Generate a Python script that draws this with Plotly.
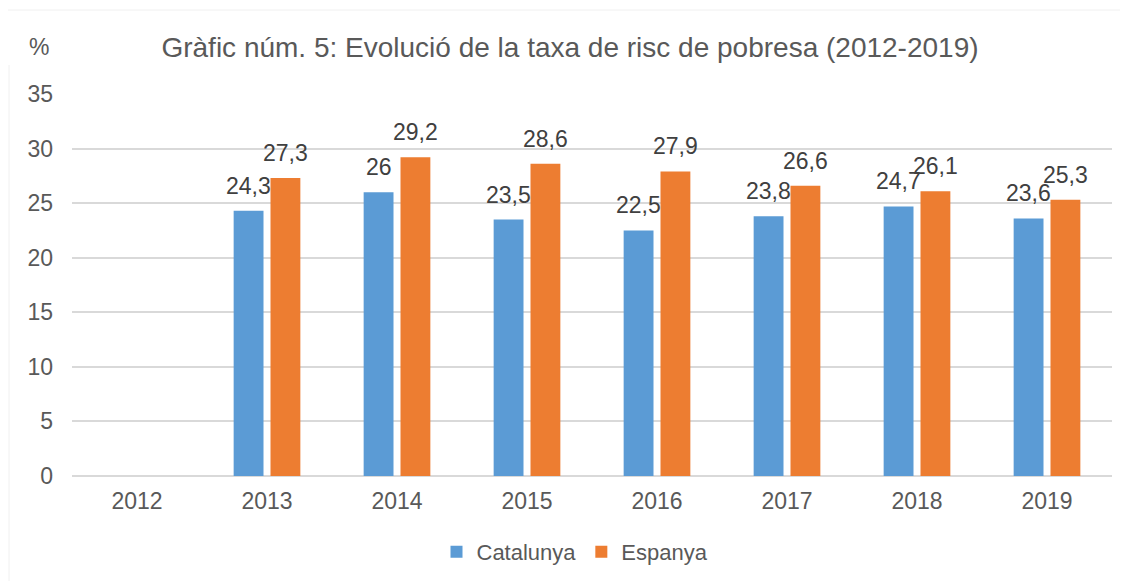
import plotly.graph_objects as go

years = ["2012", "2013", "2014", "2015", "2016", "2017", "2018", "2019"]
catalunya = [None, 24.3, 26, 23.5, 22.5, 23.8, 24.7, 23.6]
espanya = [None, 27.3, 29.2, 28.6, 27.9, 26.6, 26.1, 25.3]
series_names = ["Catalunya", "Espanya"]
colors = ["#5B9BD5", "#ED7D31"]
y_ticks = [0, 5, 10, 15, 20, 25, 30, 35]
title_text = "Gràfic núm. 5: Evolució de la taxa de risc de pobresa (2012-2019)"

FONT = "Liberation Sans, Arial, sans-serif"
# the page body adds an 8px offset, so the figure is 8px smaller than the window
W, H = 1120, 573
L, R, T, B = 64, 16, 86, 105
PW, PH = W - L - R, H - T - B

def fmt(v):
    return f"{v:g}".replace(".", ",")

fig = go.Figure()
for name, vals, col in zip(series_names, [catalunya, espanya], colors):
    fig.add_trace(go.Bar(x=years, y=vals, name=name, marker=dict(color=col, line=dict(width=0))))

ann = []
for vals, xs in [(catalunya, -18.5), (espanya, 18.5)]:
    for i, v in enumerate(vals):
        if v is None:
            continue
        ann.append(dict(x=i, y=v, xref="x", yref="y", text=fmt(v), showarrow=False,
                        xshift=xs, yshift=25, yanchor="middle", xanchor="center",
                        font=dict(family=FONT, size=23, color="#404040")))
ann.append(dict(x=(31 - L) / PW, y=(H - B - 39) / PH, xref="paper", yref="paper", text="%", showarrow=False,
                xanchor="center", yanchor="middle", font=dict(family=FONT, size=23, color="#595959")))

fig.update_layout(
    width=W, height=H,
    paper_bgcolor="white", plot_bgcolor="white",
    margin=dict(l=L, r=R, t=T, b=B, autoexpand=False),
    barmode="group", bargap=0.433, bargroupgap=0.19,
    title=dict(text=title_text, x=562 / W, xref="container", xanchor="center",
               y=1 - 39 / H, yanchor="middle", yref="container",
               font=dict(family=FONT, size=28, color="#595959")),
    xaxis=dict(type="category", range=[-0.5, 7.5], showgrid=False, showline=False, ticks="",
               tickfont=dict(family=FONT, size=23, color="#595959"), automargin=False,
               ticklabelstandoff=9),
    yaxis=dict(range=[0, 35], tickvals=y_ticks, showgrid=True, gridcolor="#D9D9D9", gridwidth=1.5,
               zeroline=True, zerolinecolor="#D9D9D9", zerolinewidth=2, showline=False, automargin=False,
               tickfont=dict(family=FONT, size=23, color="#595959"), ticklabelstandoff=18),
    legend=dict(orientation="h", xref="container", x=567 / W, xanchor="center",
                yref="container", y=1 - 544 / H, yanchor="middle",
                font=dict(family=FONT, size=22, color="#595959"), traceorder="normal"),
    annotations=ann,
    font=dict(family=FONT),
)
fig.add_shape(type="line", xref="paper", yref="paper", x0=(0 - L) / PW, x1=1 + R / PW,
              y0=(H - B - 2) / PH, y1=(H - B - 2) / PH, line=dict(color="#F0F0F0", width=1))
fig.add_shape(type="line", xref="paper", yref="paper", x0=(1 - L) / PW, x1=(1 - L) / PW,
              y0=(H - B - 57) / PH, y1=-B / PH, line=dict(color="#F0F0F0", width=1))

fig.write_html("out.html")
